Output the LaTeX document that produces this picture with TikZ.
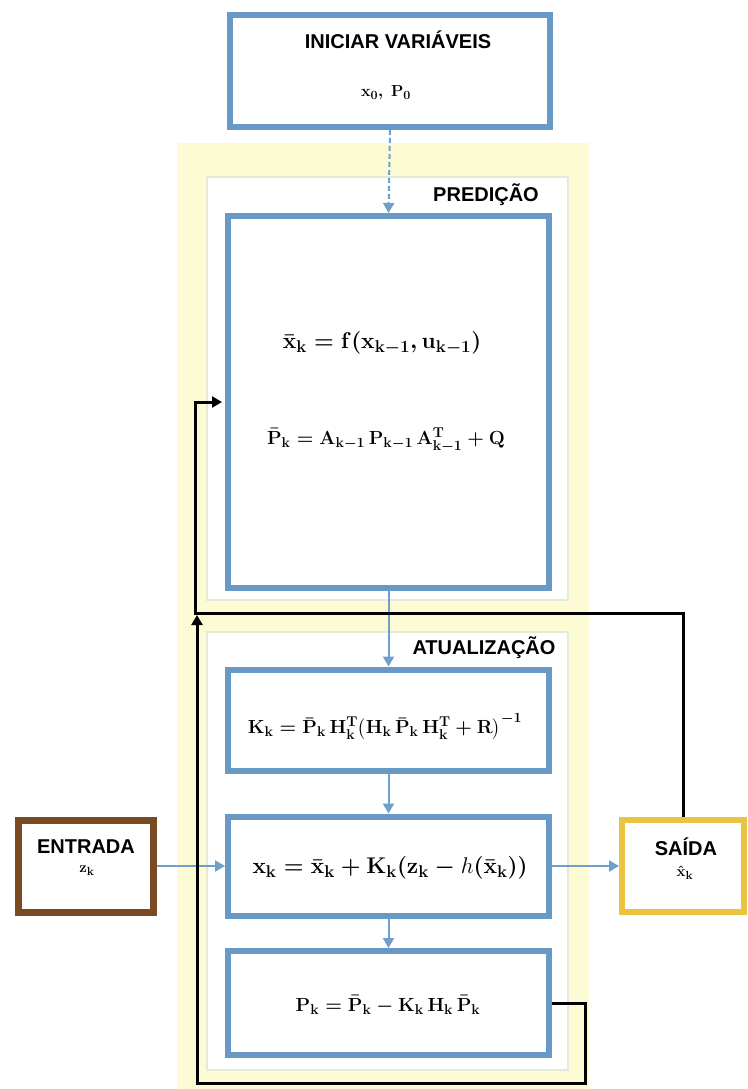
\RequirePackage{fix-cm}
\documentclass[tikz,border=0pt]{standalone}
\usepackage{amsmath}
\usepackage{fontspec}
\newfontfamily\labfam{Liberation Sans}
\usetikzlibrary{arrows.meta}
\DeclareMathSizes{19}{19}{14.2}{11}
\DeclareMathSizes{22.7}{22.7}{17}{13}
\DeclareMathSizes{16}{16}{12.5}{10}
\DeclareMathSizes{15}{15}{11.8}{9}
\definecolor{boxblue}{RGB}{104,152,196}
\definecolor{arrblue}{RGB}{110,160,205}
\definecolor{bgyellow}{RGB}{253,251,212}
\definecolor{panelline}{RGB}{228,234,214}
\definecolor{brownc}{RGB}{122,74,34}
\definecolor{goldc}{RGB}{232,196,64}
\newcommand\bb[1]{\mathbf{#1}}
\newcommand\mylabfont{\labfam\bfseries\fontsize{20}{24}\selectfont}
\newcommand\myeqfont{\fontsize{19}{23}\selectfont\boldmath}
\newcommand\mybigeqfont{\fontsize{22.7}{27}\selectfont\boldmath}
\tikzset{
  bluebox/.style={draw=boxblue, line width=6pt, fill=white, inner sep=0pt},
  arr/.style={draw=arrblue, line width=2pt, -{Triangle[width=11pt,length=10pt]}},
  blk/.style={draw=black, line width=3pt},
  blkarr/.style={draw=black, line width=3pt, -{Triangle[width=11pt,length=10pt]}},
  lab/.style={font=\mylabfont, inner sep=0pt},
  eq/.style={font=\myeqfont, inner sep=0pt},
  bigeq/.style={font=\mybigeqfont, inner sep=0pt},
  smalleq/.style={font=\fontsize{15}{18}\selectfont\boldmath, inner sep=0pt},
}
\begin{document}
\begin{tikzpicture}[x=1pt,y=-1pt]
\useasboundingbox (0,0) rectangle (747,1089);
\fill[white] (0,0) rectangle (747,1089);
% backgrounds
\fill[bgyellow] (177,143) rectangle (589,1089);
\filldraw[fill=white, draw=panelline, line width=1.5pt] (207,177) rectangle (568,600);
\filldraw[fill=white, draw=panelline, line width=1.5pt] (207,632) rectangle (568,1070);
% boxes
\node[bluebox, minimum width=320pt, minimum height=112pt] (init) at (390,71) {};
\node[bluebox, minimum width=321pt, minimum height=372pt] (pred) at (388.5,402) {};
\node[bluebox, minimum width=321pt, minimum height=101pt] (kbox) at (388.5,720) {};
\node[bluebox, minimum width=321pt, minimum height=99pt] (xbox) at (388.5,866) {};
\node[bluebox, minimum width=321pt, minimum height=104pt] (pbox) at (388.5,1003) {};
\node[draw=brownc, line width=7pt, fill=white, minimum width=135pt, minimum height=92pt, inner sep=0pt] (entrada) at (86,866) {};
\node[draw=goldc, line width=6pt, fill=white, minimum width=122pt, minimum height=92pt, inner sep=0pt] (saida) at (683,866) {};
% texts
\node[lab] (tinit) at (398,40) {INICIAR VARIÁVEIS};
\node[font=\fontsize{16}{19}\selectfont\boldmath, inner sep=0pt] (tx0) at (386,93) {$\bb x_0,\ \bb P_0$};
\node[lab] (tpred) at (486,195) {PREDIÇÃO};
\node[lab] (tatu) at (484,648) {ATUALIZAÇÃO};
\node[bigeq] (e1) at (382,343) {$\bar{\bb x}_{\bb k} = \bb f(\bb x_{\bb k-1}, \bb u_{\bb k-1})$};
\node[eq] (e2) at (386,440) {$\bar{\bb P}_{\bb k} = \bb A_{\bb k-1}\,\bb P_{\bb k-1}\,\bb A^{\bb T}_{\bb k-1} + \bb Q$};
\node[eq] (e3) at (385,727) {$\bb K_{\bb k} = \bar{\bb P}_{\bb k}\,\bb H^{\bb T}_{\bb k}\bigl(\bb H_{\bb k}\,\bar{\bb P}_{\bb k}\,\bb H^{\bb T}_{\bb k} + \bb R\bigr)^{-1}$};
\node[bigeq] (e4) at (390,868) {$\bb x_{\bb k} = \bar{\bb x}_{\bb k} + \bb K_{\bb k}(\bb z_{\bb k} - \mbox{\unboldmath$h$}(\bar{\bb x}_{\bb k}))$};
\node[eq] (e5) at (388,1005) {$\bb P_{\bb k} = \bar{\bb P}_{\bb k} - \bb K_{\bb k}\,\bb H_{\bb k}\,\bar{\bb P}_{\bb k}$};
\node[lab] (tent) at (86,847) {ENTRADA};
\node[smalleq] (tz) at (87,871) {$\bb z_{\bb k}$};
\node[lab] (tsai) at (686,847) {SAÍDA};
\node[smalleq] (txh) at (685,873) {$\hat{\bb x}_{\bb k}$};
% blue arrows
\draw[arr, dashed, dash pattern=on 5pt off 3pt] (init.south) -- (pred.north);
\draw[arr] (pred.south) -- (kbox.north);
\draw[arr] (kbox.south) -- (xbox.north);
\draw[arr] (xbox.south) -- (pbox.north);
\draw[arr] (entrada.east) -- (xbox.west);
\draw[arr] (xbox.east) -- (saida.west);
% black feedback
\coordinate (c1) at (195,613);
\coordinate (c2) at (195,402);
\coordinate (c3) at (585,1083);
\coordinate (c4) at (197,1083);
\coordinate (c5) at (197,615);
\draw[blkarr, shorten >=3pt] (saida.north) |- (c1) -- (c2) -- (c2 -| pred.west);
\draw[blkarr] (pbox.east) -| (c3) -- (c4) -- (c5);
\end{tikzpicture}
\end{document}
